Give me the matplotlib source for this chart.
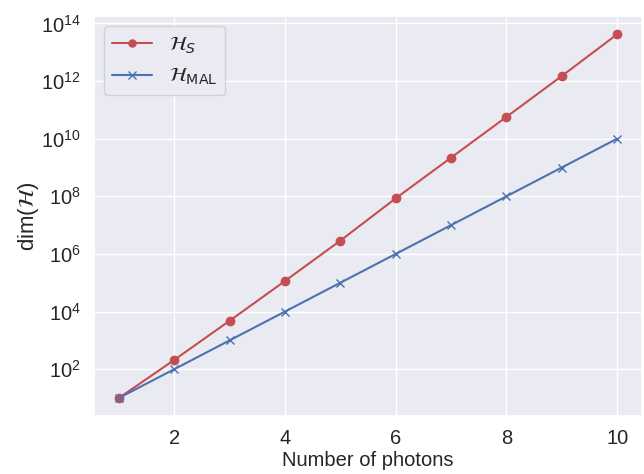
import matplotlib
matplotlib.use("Agg")
import matplotlib.pyplot as plt
import seaborn as sns

sns.set_theme(style="darkgrid", color_codes=True, font_scale=1.3)
plt.rcParams["font.family"] = ["Liberation Sans", "DejaVu Sans"]

# ── data ──────────────────────────────────────────────────────────────────────
photons = [1, 2, 3, 4, 5, 6, 7, 8, 9, 10]
dim_s = [10, 210, 4.8e3, 1.15e5, 2.9e6, 8.5e7, 2.2e9, 5.7e10, 1.5e12, 4.2e13]
dim_mal = [1e1, 1e2, 1e3, 1e4, 1e5, 1e6, 1e7, 1e8, 1e9, 1e10]
x_ticks = [2, 4, 6, 8, 10]
y_ticks = [1e2, 1e4, 1e6, 1e8, 1e10, 1e12, 1e14]

fig, ax = plt.subplots(figsize=(6.44, 4.74), dpi=100)
fig.subplots_adjust(left=0.146, right=0.997, top=0.966, bottom=0.122)

ax.plot(photons, dim_s, "r-o", label=r"$\mathcal{H}_S$")
ax.plot(photons, dim_mal, "b-x", label=r"$\mathcal{H}_\mathrm{MAL}$")
ax.set_yscale("log")
ax.set_xticks(x_ticks)
ax.set_yticks(y_ticks)
ax.minorticks_off()
ax.tick_params(labelsize=14.5)
ax.set_xlabel("Number of photons", fontsize=14.5, labelpad=2)
ax.set_ylabel(r"dim($\mathcal{H}$)", fontsize=16, labelpad=0)
ax.legend(loc="upper left", fontsize=14.5, markerscale=0.85)

fig.savefig("out.png", dpi=100)
